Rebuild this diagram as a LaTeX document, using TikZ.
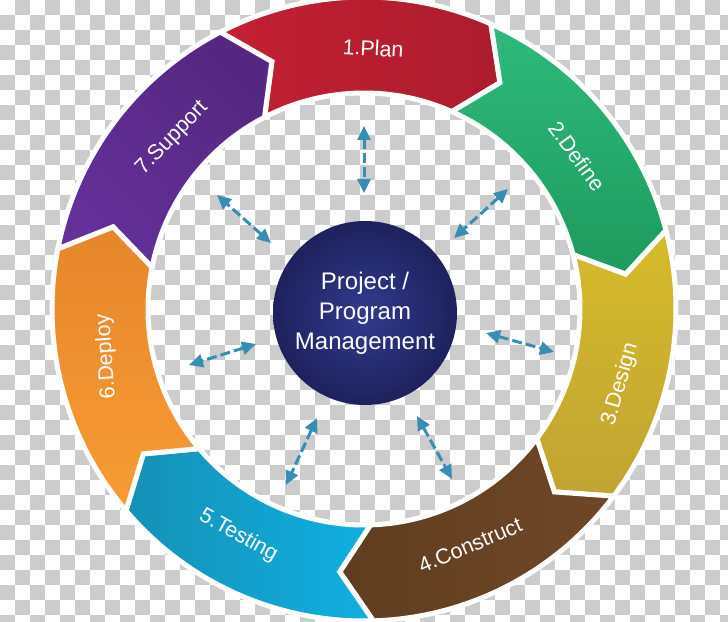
\documentclass[tikz,border=0pt]{standalone}
\usepackage{fontspec}
\setmainfont{Liberation Sans}
\usetikzlibrary{arrows.meta}
\definecolor{chk}{HTML}{CCCCCC}
\definecolor{arrowc}{HTML}{3A8DB2}
\definecolor{planA}{HTML}{C42034}
\definecolor{planB}{HTML}{AC1D2D}
\definecolor{defA}{HTML}{2EBA7C}
\definecolor{defB}{HTML}{1E9A5E}
\definecolor{desA}{HTML}{D6BB2B}
\definecolor{desB}{HTML}{C0A432}
\definecolor{conA}{HTML}{6F4727}
\definecolor{conB}{HTML}{5F3D1F}
\definecolor{tesA}{HTML}{1590B5}
\definecolor{tesB}{HTML}{10B0E2}
\definecolor{depA}{HTML}{E5862B}
\definecolor{depB}{HTML}{F89C34}
\definecolor{supA}{HTML}{552780}
\definecolor{supB}{HTML}{64309A}
\definecolor{pmIn}{HTML}{323B8E}
\definecolor{pmOut}{HTML}{1D215C}
\begin{document}
\begin{tikzpicture}[x=1pt,y=1pt,
  seglab/.style={text=white, font=\fontsize{21.5}{25}\selectfont, inner sep=0pt},
  arr/.style={draw=arrowc, line width=3pt, dash pattern=on 10pt off 4pt,
    {Triangle[length=14pt,width=13pt]}-{Triangle[length=14pt,width=13pt]}},
  segment/.style={draw=white, line width=5pt, line join=miter}]
\useasboundingbox (0,0) rectangle (728,621);
\fill[white] (0,0) rectangle (728,621);
% checkerboard background
\foreach \i in {0,...,48}{
  \foreach \j in {0,...,41}{
    \pgfmathtruncatemacro{\p}{mod(\i+\j,2)}
    \ifnum\p=1 \fill[chk] (15*\i,621-15*\j) rectangle ++(15,-15); \fi
  }
}
% ring of chevron segments
\begin{scope}[shift={(364,312)}]
\foreach \k/\ca/\cb/\sa in {0/planA/planB/90, 1/defA/defB/0, 2/desA/desB/0, 3/conA/conB/-90, 4/tesA/tesB/90, 5/depA/depB/0, 6/supA/supB/-45}{
  \pgfmathsetmacro{\as}{90-(-27.43+51.4286*\k)}
  \pgfmathsetmacro{\ae}{\as-51.4286}
  \pgfmathsetmacro{\ap}{\ae-7}
  \pgfmathsetmacro{\an}{\as-7}
  \path[segment, top color=\ca, bottom color=\cb, shading angle=\sa]
    (\as:312pt) arc[start angle=\as, end angle=\ae, radius=312pt]
    -- (\ap:264pt) -- (\ae:216pt)
    arc[start angle=\ae, end angle=\as, radius=216pt]
    -- (\an:264pt) -- cycle;
}
\node[seglab, rotate=-3]  (l1) at (88:261pt)    {1.Plan};
\node[seglab, rotate=-54] (l2) at (35.7:262pt)  {2.Define};
\node[seglab, rotate=74]  (l3) at (-16.4:267pt) {3.Design};
\node[seglab, rotate=23]  (l4) at (-65.8:259pt) {4.Construct};
\node[seglab, rotate=-29] (l5) at (-119:259pt)  {5.Testing};
\node[seglab, rotate=94]  (l6) at (190.5:262pt) {6.Deploy};
\node[seglab, rotate=46]  (l7) at (138.3:257pt) {7.Support};
\end{scope}
% centre
\node[circle, minimum size=184pt, inner sep=0pt, inner color=pmIn, outer color=pmOut,
  text=white, align=center, font=\fontsize{24}{30}\selectfont] (pm) at (365,308)
  {Project /\\Program\\Management};
% arrows
\coordinate (a1s) at (364,495); \coordinate (a1e) at (364,428);
\coordinate (a2s) at (508,432); \coordinate (a2e) at (454,383);
\coordinate (a3s) at (486,288); \coordinate (a3e) at (554,269);
\coordinate (a4s) at (417,205); \coordinate (a4e) at (452,142);
\coordinate (a5s) at (317,203); \coordinate (a5e) at (286,136);
\coordinate (a6s) at (256,277); \coordinate (a6e) at (189,256);
\coordinate (a7s) at (271,378); \coordinate (a7e) at (217,426);
\foreach \n in {1,...,7}{ \draw[arr] (a\n s) -- (a\n e); }
\end{tikzpicture}
\end{document}
